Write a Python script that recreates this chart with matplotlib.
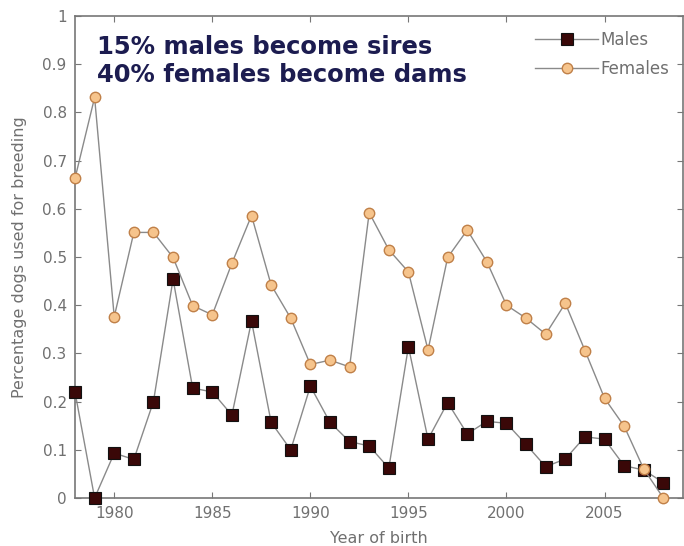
import matplotlib
matplotlib.use("Agg")
import matplotlib.pyplot as plt

years = list(range(1978, 2009))

males = [0.22, 0.0, 0.093, 0.08, 0.20, 0.454, 0.228, 0.22, 0.172, 0.367,
         0.157, 0.10, 0.232, 0.157, 0.117, 0.108, 0.062, 0.314, 0.122, 0.198,
         0.133, 0.159, 0.155, 0.111, 0.065, 0.081, 0.127, 0.122, 0.067, 0.058,
         0.032]

females = [0.663, 0.831, 0.376, 0.551, 0.551, 0.499, 0.399, 0.38, 0.487, 0.586,
           0.442, 0.373, 0.277, 0.286, 0.272, 0.592, 0.515, 0.469, 0.307, 0.499,
           0.556, 0.49, 0.40, 0.373, 0.34, 0.404, 0.306, 0.207, 0.149, 0.06,
           0.0]

xticks = [1980, 1985, 1990, 1995, 2000, 2005]
yticks = [0, 0.1, 0.2, 0.3, 0.4, 0.5, 0.6, 0.7, 0.8, 0.9, 1]
ytick_labels = ['0', '0.1', '0.2', '0.3', '0.4', '0.5', '0.6', '0.7', '0.8', '0.9', '1']

fig = plt.figure(figsize=(6.84, 5.46), dpi=100)
ax = fig.add_axes([75/684, 48/546, 608/684, 482/546])

line_col = '#8a8a8a'
ax.plot(years, males, '-s', color=line_col, lw=1.0, markersize=8,
        markerfacecolor='#3a0808', markeredgecolor='#111111', markeredgewidth=0.8,
        label='Males', clip_on=False, zorder=3)
ax.plot(years, females, '-o', color=line_col, lw=1.0, markersize=7.5,
        markerfacecolor='#f6c48c', markeredgecolor='#c08048', markeredgewidth=1.0,
        label='Females', clip_on=False, zorder=3)

ax.set_xlim(1978, 2009)
ax.set_ylim(0, 1)
ax.set_xticks(xticks)
ax.set_yticks(yticks)
ax.set_yticklabels(ytick_labels)

gray = '#707070'
ax.tick_params(direction='in', length=4, width=0.8, top=True, right=True,
               colors='#777777', labelcolor=gray, labelsize=11, pad=6)
for s in ax.spines.values():
    s.set_color('#777777')
    s.set_linewidth(1.2)

ax.set_xlabel('Year of birth', color=gray, fontsize=11.5, labelpad=7)
ax.set_ylabel('Percentage dogs used for breeding', color=gray, fontsize=11.5, labelpad=11)

# annotation in the upper left corner
ax.text(0.036, 0.9606, '15% males become sires\n40% females become dams',
        transform=ax.transAxes, ha='left', va='top', fontsize=17.5,
        fontweight='bold', color='#1c1c50', linespacing=1.2,
        family='DejaVu Sans')

leg = ax.legend(loc='upper left', frameon=False, fontsize=12,
                bbox_to_anchor=(535/684, 1 - 31/546), bbox_transform=fig.transFigure,
                borderaxespad=0, borderpad=0, handlelength=3.8,
                labelspacing=0.68, handletextpad=0.15)
for t in leg.get_texts():
    t.set_color(gray)

fig.savefig('out.png', dpi=100)
